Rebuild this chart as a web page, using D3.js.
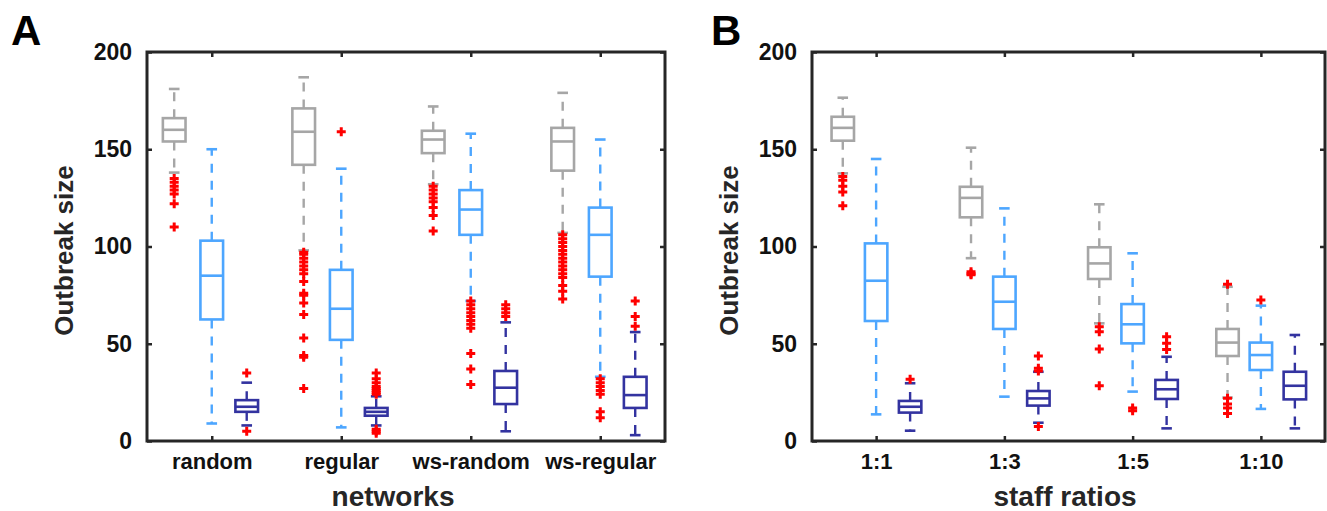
<!DOCTYPE html>
<html>
<head>
<meta charset="utf-8">
<script src="https://cdn.jsdelivr.net/npm/d3@7"></script>
<style>
  html, body { margin: 0; padding: 0; background: #fff; }
  svg { display: block; font-family: "Liberation Sans", Arial, Helvetica, sans-serif; }
</style>
</head>
<body>
<svg id="chart" width="1327" height="511"></svg>
<script>
// ---------------- data ----------------
const networks = ["random", "regular", "ws-random", "ws-regular"];
const staffRatios = ["1:1", "1:3", "1:5", "1:10"];
const yTicks = [0, 50, 100, 150, 200];
const seriesNames = ["gray", "lightblue", "darkblue"];

// box stats per category: [lower whisker, q1, median, q3, upper whisker]
const netGray = [[138, 154, 160, 166, 181], [98, 142, 159, 171, 187], [132, 148, 155, 159.5, 172], [107, 139, 154, 161, 179]];
const netBlue = [[9, 62.5, 85, 103, 150], [7, 52, 68, 88, 140], [72, 106, 119, 129, 158], [33, 84.5, 106, 120, 155]];
const netDark = [[8, 15, 17.6, 21, 30], [8, 13, 15, 17, 23], [5, 19, 27.4, 36, 61], [3, 17, 23.6, 33, 56]];

const netGrayOut = [[135, 133, 131, 129, 127, 122, 110],
  [97, 96, 94, 92, 90, 88, 86, 82, 76, 75, 71, 65, 53, 44, 43, 27],
  [131, 129, 127, 125, 123, 120, 116, 108],
  [106, 104, 102, 100, 98, 96, 94, 92, 90, 88, 86, 84, 80, 77, 73]];
const netBlueOut = [[], [159], [72, 70, 68, 66, 64, 62, 60, 58, 45, 37, 29], [32, 30, 28, 26, 24, 15, 12]];
const netDarkOut = [[35, 5], [35, 32, 30, 28, 27, 26, 25, 24, 6, 5, 4], [70, 68, 66, 64], [72, 64, 59]];

const staffGray = [[137.6, 154.4, 161, 166.7, 176.5], [94, 115, 125, 130.7, 150.8], [60.5, 83.3, 91.3, 99.6, 121.7], [22.3, 43.7, 50.6, 57.6, 79.3]];
const staffBlue = [[13.7, 61.7, 82.4, 101.6, 145], [22.8, 57.6, 71.6, 84.5, 119.6], [25.4, 50.2, 60, 70.4, 96.5], [16.5, 36.5, 44.2, 50.6, 69.6]];
const staffDark = [[5.3, 14.6, 17.6, 20.6, 29.7], [9.4, 18.2, 21.9, 25.7, 35.6], [6.5, 21.6, 26.6, 31.4, 43.3], [6.5, 21.4, 28.4, 35.6, 54.5]];

const staffGrayOut = [[136, 134, 131, 128, 121], [87, 86, 85.5], [58.8, 56.2, 47.3, 28.4], [80.6, 22, 19, 17, 14.2]];
const staffBlueOut = [[], [], [17, 15.5], [72.5]];
const staffDarkOut = [[31.7], [43.7, 37.4, 36, 7.4], [53.6, 50.2, 47.1], []];

// ---------------- style ----------------
const colors = { gray: "#a6a6a6", lightblue: "#4da6ff", darkblue: "#3333a0" };
const outlierColor = "#ff0000";
const axisColor = "#262626";

const svg = d3.select("#chart");

function drawPanel(opts) {
  const { left, right, top, bottom, cats, stats, outliers, offsets, letter, letterX, xTitle, xTitleX, yTitleX } = opts;
  const x = d3.scaleLinear().domain([0.5, 4.5]).range([left, right]);
  const y = d3.scaleLinear().domain([0, 200]).range([bottom, top]);
  const g = svg.append("g");
  const boxW = (x(1.175) - x(1));
  const capW = boxW * 0.47;

  // axes (inward ticks)
  const tickStyle = (sel, fs) => {
    sel.select(".domain").remove();
    sel.selectAll(".tick line").attr("stroke", axisColor).attr("stroke-width", 2.5);
    sel.selectAll(".tick text").attr("fill", "#111").attr("font-weight", "bold").attr("font-size", fs);
  };
  g.append("g").attr("transform", `translate(${left},0)`)
    .call(d3.axisLeft(y).tickValues(yTicks).tickSize(-5).tickPadding(15))
    .call(tickStyle, 23);
  g.append("g").attr("transform", `translate(${right},0)`)
    .call(d3.axisRight(y).tickValues(yTicks).tickSize(-5).tickFormat(""))
    .call(tickStyle, 22);
  g.append("g").attr("transform", `translate(0,${bottom})`)
    .call(d3.axisBottom(x).tickValues([1, 2, 3, 4]).tickSize(-5).tickPadding(12).tickFormat(i => cats[i - 1]))
    .call(tickStyle, 22);
  g.append("g").attr("transform", `translate(0,${top})`)
    .call(d3.axisTop(x).tickValues([1, 2, 3, 4]).tickSize(-5).tickFormat(""))
    .call(tickStyle, 22);

  // boxes
  seriesNames.forEach((s, si) => {
    const col = colors[s];
    const sg = g.append("g");
    stats[si].forEach((st, ci) => {
      const cx = x(ci + 1 + offsets[si]);
      const [lo, q1, med, q3, hi] = st;
      // whiskers (dashed), drawn from box outward
      sg.append("line").attr("x1", cx).attr("x2", cx).attr("y1", y(q3)).attr("y2", y(hi))
        .attr("stroke", col).attr("stroke-width", 2.4).attr("stroke-dasharray", "9,8");
      sg.append("line").attr("x1", cx).attr("x2", cx).attr("y1", y(q1)).attr("y2", y(lo))
        .attr("stroke", col).attr("stroke-width", 2.4).attr("stroke-dasharray", "9,8");
      // caps
      [lo, hi].forEach(v => sg.append("line")
        .attr("x1", cx - capW / 2).attr("x2", cx + capW / 2).attr("y1", y(v)).attr("y2", y(v))
        .attr("stroke", col).attr("stroke-width", 2.6));
      // box
      sg.append("rect").attr("x", cx - boxW / 2).attr("y", y(q3)).attr("width", boxW).attr("height", y(q1) - y(q3))
        .attr("fill", "none").attr("stroke", col).attr("stroke-width", 2.6);
      sg.append("line").attr("x1", cx - boxW / 2).attr("x2", cx + boxW / 2).attr("y1", y(med)).attr("y2", y(med))
        .attr("stroke", col).attr("stroke-width", 2.6);
      // outliers
      outliers[si][ci].forEach(v => {
        const py = y(v), r = 4.5;
        sg.append("path").attr("d", `M${cx - r},${py}H${cx + r}M${cx},${py - r}V${py + r}`)
          .attr("stroke", outlierColor).attr("stroke-width", 3).attr("fill", "none");
      });
    });
  });

  // frame
  g.append("rect").attr("x", left).attr("y", top).attr("width", right - left).attr("height", bottom - top)
    .attr("fill", "none").attr("stroke", axisColor).attr("stroke-width", 3);

  // titles
  g.append("text").attr("x", xTitleX).attr("y", 506).attr("text-anchor", "middle")
    .attr("font-size", 28).attr("font-weight", "bold").attr("fill", "#262626").text(xTitle);
  g.append("text").attr("transform", `translate(${yTitleX},${(top + bottom) / 2 + 4}) rotate(-90)`)
    .attr("text-anchor", "middle").attr("font-size", 26).attr("font-weight", "bold").attr("fill", "#262626")
    .text("Outbreak size");
  g.append("text").attr("x", letterX).attr("y", 45).attr("font-size", 42).attr("font-weight", "bold")
    .attr("fill", "#000").text(letter);
}

drawPanel({
  left: 147, right: 665, top: 52, bottom: 441, cats: networks,
  stats: [netGray, netBlue, netDark], outliers: [netGrayOut, netBlueOut, netDarkOut],
  offsets: [-0.29, 0, 0.27], letter: "A", letterX: 11, xTitle: "networks", xTitleX: 393, yTitleX: 73
});
drawPanel({
  left: 812, right: 1325, top: 52, bottom: 441, cats: staffRatios,
  stats: [staffGray, staffBlue, staffDark], outliers: [staffGrayOut, staffBlueOut, staffDarkOut],
  offsets: [-0.26, 0, 0.265], letter: "B", letterX: 711, xTitle: "staff ratios", xTitleX: 1065, yTitleX: 738
});
</script>
</body>
</html>
